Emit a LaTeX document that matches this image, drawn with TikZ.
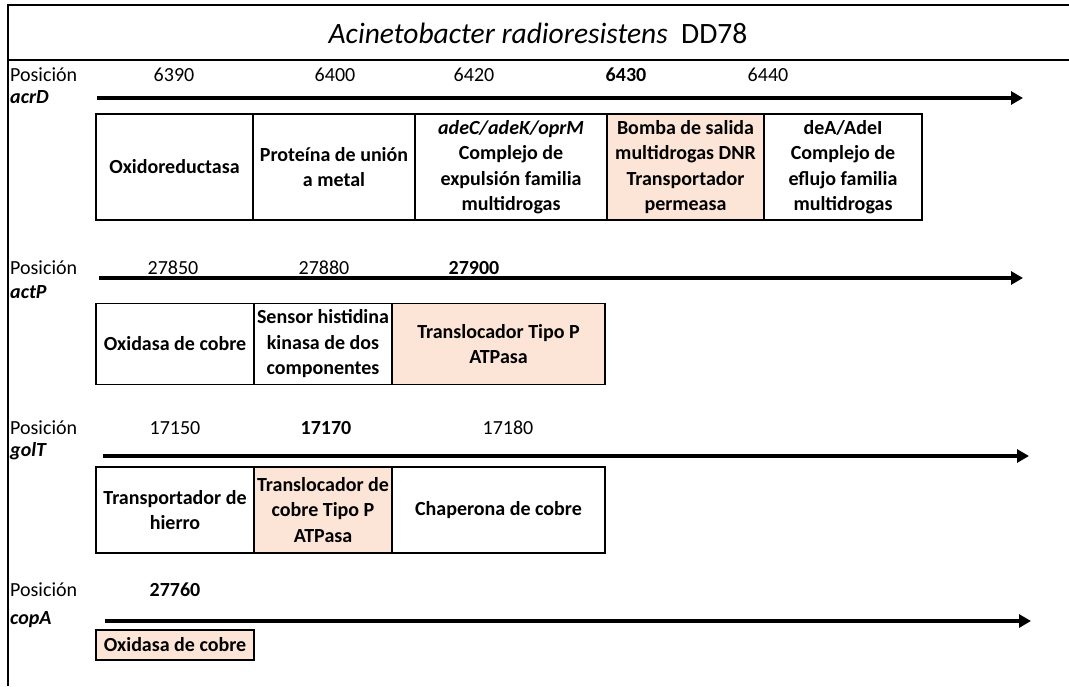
\documentclass[tikz,border=0pt]{standalone}
\usepackage{fontspec}
\setmainfont{Carlito}
\usetikzlibrary{arrows.meta}
\definecolor{pinkfill}{HTML}{FCE4D6}
\tikzset{
  lbl/.style={inner sep=0pt, font=\fontsize{20}{24}\selectfont},
  gene/.style={inner sep=0pt, anchor=west, font=\fontsize{20}{24}\selectfont\bfseries\itshape},
  posnum/.style={inner sep=0pt, font=\fontsize{20}{24}\selectfont},
  posbold/.style={inner sep=0pt, font=\fontsize{20}{24}\selectfont\bfseries},
  gbox/.style={draw=black, line width=1.2pt, inner sep=0pt, align=center,
     font=\fontsize{20}{25.5}\selectfont\bfseries},
  hitbox/.style={gbox, fill=pinkfill},
  genearrow/.style={line width=4pt, -{Triangle[length=12pt,width=13pt]}},
  frameline/.style={line width=1.5pt},
}
\begin{document}
\begin{tikzpicture}[x=1pt,y=-1pt]
\useasboundingbox (0,0) rectangle (1069,686);
% frame
\coordinate (tl) at (8,5);
\coordinate (tr) at (1069,5);
\coordinate (bl) at (8,686);
\coordinate (ml) at (8,60);
\coordinate (mr) at (1069,60);
\draw[frameline] (tr) -- (tl) -- (bl);
\draw[line width=2.6pt] (ml) -- (mr);
\node[inner sep=0pt, font=\fontsize{29.5}{34}\selectfont] (title) at (538,33)
  {\textit{Acinetobacter radioresistens}\ \ DD78};

% ---------- row 1 ----------
\node[lbl, anchor=west] (p1) at (10,75) {Posición};
\node[gene] (g1) at (10,97) {acrD};
\node[posnum] (n11) at (174,75) {6390};
\node[posnum] (n12) at (335,75) {6400};
\node[posnum] (n13) at (474,75) {6420};
\node[posbold] (n14) at (626,75) {6430};
\node[posnum] (n15) at (768,75) {6440};
\coordinate (a1s) at (97,98);
\coordinate (a1e) at (1023,98);
\draw[genearrow] (a1s) -- (a1e);
\node[gbox, minimum width=157pt, minimum height=106pt] (b11) at (174.5,167) {Oxidoreductasa};
\node[gbox, minimum width=162pt, minimum height=106pt] (b12) at (334,167) {Proteína de unión\\a metal};
\node[gbox, minimum width=192pt, minimum height=106pt] (b13) at (511,167) {\textit{adeC/adeK/oprM}\\Complejo de\\expulsión familia\\multidrogas};
\node[hitbox, minimum width=157pt, minimum height=106pt] (b14) at (685.5,167) {Bomba de salida\\multidrogas DNR\\Transportador\\permeasa};
\node[gbox, minimum width=158pt, minimum height=106pt] (b15) at (843,167) {deA/AdeI\\Complejo de\\eflujo familia\\multidrogas};

% ---------- row 2 ----------
\node[lbl, anchor=west] (p2) at (10,268) {Posición};
\node[gene] (g2) at (10,292) {actP};
\node[posnum] (n21) at (173,268) {27850};
\node[posnum] (n22) at (324,268) {27880};
\node[posbold] (n23) at (474,268) {27900};
\coordinate (a2s) at (99,278);
\coordinate (a2e) at (1023,278);
\draw[genearrow] (a2s) -- (a2e);
\node[gbox, minimum width=158pt, minimum height=81pt] (b21) at (175,344) {Oxidasa de cobre};
\node[gbox, minimum width=138pt, minimum height=81pt] (b22) at (323,344) {Sensor histidina\\kinasa de dos\\componentes};
\node[hitbox, minimum width=213pt, minimum height=81pt] (b23) at (498.5,344) {Translocador Tipo P\\ATPasa};

% ---------- row 3 ----------
\node[lbl, anchor=west] (p3) at (10,428) {Posición};
\node[gene] (g3) at (10,451) {golT};
\node[posnum] (n31) at (175,428) {17150};
\node[posbold] (n32) at (326,428) {17170};
\node[posnum] (n33) at (508,428) {17180};
\coordinate (a3s) at (103,456);
\coordinate (a3e) at (1029,456);
\draw[genearrow] (a3s) -- (a3e);
\node[gbox, minimum width=158pt, minimum height=86pt] (b31) at (175,510) {Transportador de\\hierro};
\node[hitbox, minimum width=138pt, minimum height=86pt] (b32) at (323,510) {Translocador de\\cobre Tipo P\\ATPasa};
\node[gbox, minimum width=213pt, minimum height=86pt] (b33) at (498.5,510) {Chaperona de cobre};

% ---------- row 4 ----------
\node[lbl, anchor=west] (p4) at (10,590) {Posición};
\node[gene] (g4) at (10,620) {copA};
\node[posbold] (n41) at (175,590) {27760};
\coordinate (a4s) at (105,621);
\coordinate (a4e) at (1031,621);
\draw[genearrow] (a4s) -- (a4e);
\node[hitbox, minimum width=158pt, minimum height=30pt] (b41) at (175,645) {Oxidasa de cobre};
\end{tikzpicture}
\end{document}
